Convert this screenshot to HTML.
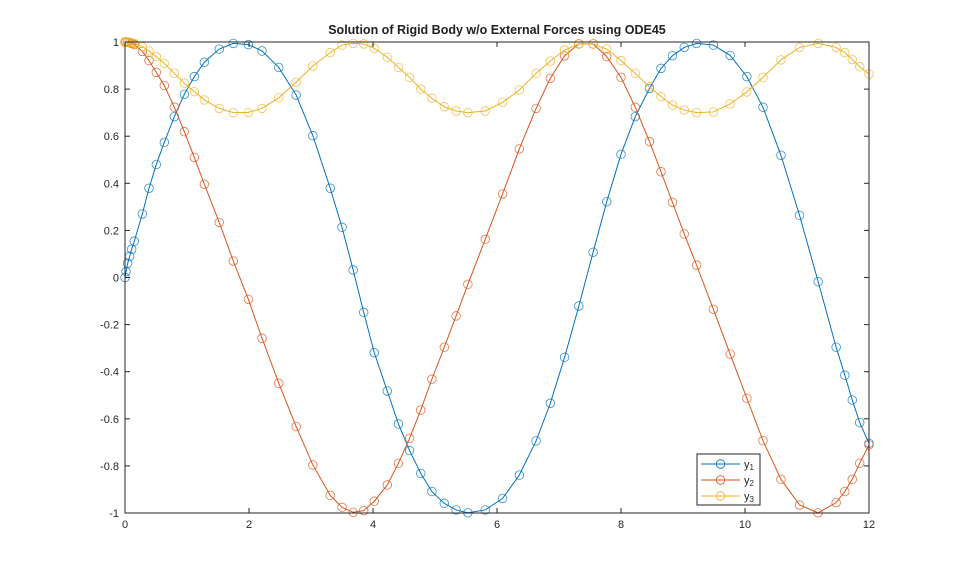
<!DOCTYPE html>
<html><head><meta charset="utf-8"><style>
body{margin:0;background:#fff;}
svg{display:block;font-family:"Liberation Sans",Arial,sans-serif;}
</style></head><body>
<svg id="chart" width="959" height="577" viewBox="0 0 959 577">
<rect x="0" y="0" width="959" height="577" fill="#fff"/>
<text x="497" y="34" text-anchor="middle" font-size="12.5" font-weight="bold" fill="#212121">Solution of Rigid Body w/o External Forces using ODE45</text>
<g id="plot"></g>
<g id="axes"></g>
<g id="legend"></g>
</svg>
<script>
const tVals=[0,0.016,0.043,0.075,0.107,0.15,0.28,0.387,0.505,0.634,0.796,0.957,1.118,1.28,1.52,1.747,1.99,2.21,2.48,2.76,3.03,3.31,3.5,3.68,3.85,4.02,4.23,4.41,4.59,4.77,4.95,5.15,5.34,5.53,5.81,6.09,6.36,6.63,6.86,7.09,7.32,7.55,7.77,8.0,8.23,8.46,8.645,8.83,9.02,9.22,9.49,9.76,10.03,10.29,10.58,10.88,11.18,11.47,11.61,11.73,11.85,12.0];
const y1Vals=[0,0.025,0.06,0.09,0.12,0.154,0.27,0.379,0.48,0.574,0.683,0.778,0.853,0.914,0.97,0.994,0.989,0.962,0.892,0.775,0.602,0.379,0.213,0.032,-0.148,-0.319,-0.482,-0.622,-0.735,-0.832,-0.909,-0.959,-0.987,-0.999,-0.987,-0.938,-0.839,-0.694,-0.534,-0.339,-0.121,0.107,0.322,0.523,0.683,0.803,0.888,0.942,0.977,0.994,0.987,0.943,0.853,0.723,0.519,0.264,-0.018,-0.296,-0.415,-0.52,-0.616,-0.704];
const y2Vals=[1,1,0.999,0.997,0.994,0.989,0.96,0.921,0.871,0.815,0.723,0.619,0.51,0.396,0.234,0.07,-0.093,-0.258,-0.449,-0.633,-0.796,-0.925,-0.976,-0.997,-0.99,-0.95,-0.881,-0.789,-0.683,-0.563,-0.432,-0.296,-0.163,-0.029,0.162,0.355,0.546,0.718,0.846,0.941,0.992,0.992,0.938,0.85,0.723,0.577,0.449,0.319,0.185,0.052,-0.135,-0.325,-0.513,-0.693,-0.857,-0.966,-0.999,-0.956,-0.909,-0.857,-0.789,-0.711];
const y3Vals=[1,1,0.999,0.998,0.996,0.994,0.98,0.962,0.938,0.909,0.867,0.825,0.789,0.754,0.718,0.7,0.701,0.718,0.763,0.829,0.898,0.955,0.987,0.994,0.992,0.973,0.935,0.892,0.85,0.8,0.761,0.725,0.707,0.7,0.707,0.744,0.796,0.867,0.919,0.966,0.992,0.992,0.97,0.921,0.867,0.81,0.768,0.732,0.711,0.7,0.703,0.737,0.788,0.85,0.924,0.977,0.994,0.977,0.955,0.926,0.895,0.864];
const xTicks=[0,2,4,6,8,10,12];
const xTickLabels=["0","2","4","6","8","10","12"];
const yTicks=[-1,-0.8,-0.6,-0.4,-0.2,0,0.2,0.4,0.6,0.8,1];
const yTickLabels=["-1","-0.8","-0.6","-0.4","-0.2","0","0.2","0.4","0.6","0.8","1"];
const seriesNames=["y1","y2","y3"];

const NS="http://www.w3.org/2000/svg";
const L=125,R=869,T=42,B=513;
const xS=v=>L+(v-0)/(12-0)*(R-L);
const yS=v=>B-(v-(-1))/(2)*(B-T);
function mk(tag,attrs,parent){const e=document.createElementNS(NS,tag);for(const k in attrs)e.setAttribute(k,attrs[k]);parent.appendChild(e);return e;}
const plot=document.getElementById('plot'),axes=document.getElementById('axes'),leg=document.getElementById('legend');
const colors=["#0072BD","#D95319","#EDB120"];
const data=[y1Vals,y2Vals,y3Vals];
data.forEach((ys,i)=>{
  const g=mk('g',{},plot);
  
  
  const pts=tVals.map((t,j)=>xS(t).toFixed(2)+','+yS(ys[j]).toFixed(2)).join(' ');
  const pl=mk('polyline',{points:pts,fill:'none',stroke:colors[i],'stroke-width':1},g);
  
  
  tVals.forEach((t,j)=>{
    const c=mk('circle',{cx:xS(t),cy:yS(ys[j]),r:4.3,fill:'none',stroke:colors[i],'stroke-width':0.8,'stroke-opacity':0.8},g);
    
    
  });
});
// axes box
const box=mk('rect',{x:L,y:T,width:R-L,height:B-T,fill:'none',stroke:'#262626','stroke-width':1},axes);


xTicks.forEach((v,i)=>{
  const x=xS(v);
  const t1=mk('line',{x1:x,y1:B,x2:x,y2:B-5,stroke:'#262626'},axes);
  
  
  const t2=mk('line',{x1:x,y1:T,x2:x,y2:T+5,stroke:'#262626'},axes);
  
  
  const tx=mk('text',{x:x,y:B+15,'text-anchor':'middle','font-size':11,fill:'#262626'},axes);
  tx.textContent=xTickLabels[i];
  
  
});
yTicks.forEach((v,i)=>{
  const y=yS(v);
  const t1=mk('line',{x1:L,y1:y,x2:L+5,y2:y,stroke:'#262626'},axes);
  
  
  const t2=mk('line',{x1:R,y1:y,x2:R-5,y2:y,stroke:'#262626'},axes);
  
  
  const tx=mk('text',{x:L-6,y:y+4,'text-anchor':'end','font-size':11,fill:'#262626'},axes);
  tx.textContent=yTickLabels[i];
  
  
});
// legend
const lb=mk('rect',{x:697,y:454,width:63,height:51,fill:'#fff',stroke:'#262626','stroke-width':1},leg);


seriesNames.forEach((n,i)=>{
  const y=464+i*16;
  const g=mk('g',{},leg);
  
  
  mk('line',{x1:701,y1:y,x2:740,y2:y,stroke:colors[i],'stroke-width':1},g);
  mk('circle',{cx:720.5,cy:y,r:4.3,fill:'none',stroke:colors[i],'stroke-width':0.8},g);
  const tx=mk('text',{x:744,y:y+4,'font-size':11,fill:'#262626'},g);
  tx.textContent='y';
  const sub=mk('tspan',{'font-size':8,dy:2},tx);
  sub.textContent=String(i+1);
});
</script>
</body></html>
